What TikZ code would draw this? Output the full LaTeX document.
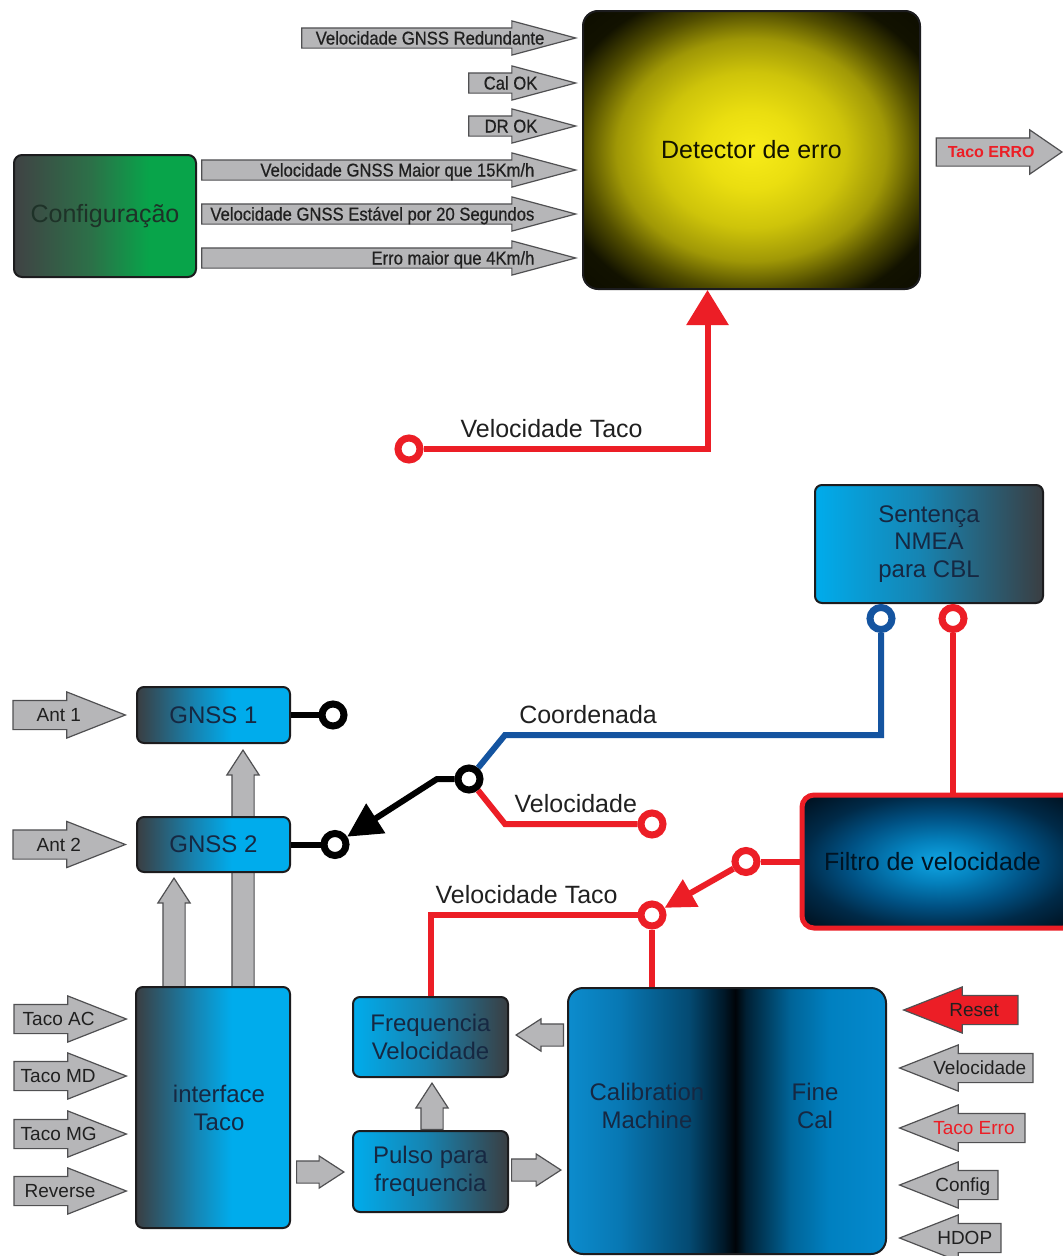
\documentclass[tikz,border=0pt]{standalone}
\usepackage{fontspec}
\setmainfont{Liberation Sans}
\newfontfamily\narrowsans[FakeStretch=0.9,FakeBold=0.6]{Liberation Sans}
\usetikzlibrary{positioning,arrows.meta,shapes.arrows}
\definecolor{arrfill}{RGB}{182,182,184}
\definecolor{arredge}{RGB}{80,80,82}
\definecolor{boxedge}{RGB}{28,28,30}
\definecolor{boxtext}{RGB}{22,40,66}
\definecolor{lbltext}{RGB}{32,32,32}
\definecolor{wirered}{RGB}{236,30,38}
\definecolor{wireblue}{RGB}{20,84,160}
\definecolor{shgray}{RGB}{58,62,66}
\definecolor{shteal}{RGB}{22,132,178}
\definecolor{shblue}{RGB}{0,172,236}
\definecolor{cfggray}{RGB}{64,66,68}
\definecolor{cfgmid}{RGB}{44,112,72}
\definecolor{cfggreen}{RGB}{8,164,74}
\definecolor{cfgtext}{RGB}{30,50,40}
\definecolor{detA}{RGB}{248,236,24}
\definecolor{detB}{RGB}{234,222,16}
\definecolor{detC}{RGB}{206,196,10}
\definecolor{detD}{RGB}{160,152,6}
\definecolor{detE}{RGB}{82,78,0}
\definecolor{detF}{RGB}{18,18,0}
\definecolor{filA}{RGB}{16,166,228}
\definecolor{filB}{RGB}{4,128,188}
\definecolor{filC}{RGB}{0,80,130}
\definecolor{filD}{RGB}{0,42,72}
\definecolor{filE}{RGB}{0,20,36}
\definecolor{calA}{RGB}{12,140,205}
\definecolor{calB}{RGB}{8,120,180}
\definecolor{calC}{RGB}{4,74,114}
\definecolor{calD}{RGB}{0,24,40}
\definecolor{calE}{RGB}{0,4,8}
\definecolor{calF}{RGB}{0,32,52}
\definecolor{calG}{RGB}{0,100,152}
\definecolor{calH}{RGB}{0,128,192}
\definecolor{calI}{RGB}{4,138,206}
\pgfdeclarehorizontalshading{gnssshade}{100bp}{color(0bp)=(shgray); color(25bp)=(shgray); color(44bp)=(shteal); color(56bp)=(shblue); color(100bp)=(shblue)}
\pgfdeclarehorizontalshading{nmeashade}{100bp}{color(0bp)=(shblue); color(25bp)=(shblue); color(48bp)=(shteal); color(75bp)=(shgray); color(100bp)=(shgray)}
\pgfdeclarehorizontalshading{cfgshade}{100bp}{color(0bp)=(cfggray); color(25bp)=(cfggray); color(46bp)=(cfgmid); color(62bp)=(cfggreen); color(100bp)=(cfggreen)}
\pgfdeclarehorizontalshading{calshade}{100bp}{color(0bp)=(calA); color(25bp)=(calA); color(33bp)=(calB); color(44bp)=(calC); color(49.5bp)=(calD); color(51.3bp)=(calE); color(53bp)=(calF); color(60bp)=(calG); color(66bp)=(calH); color(75bp)=(calI); color(100bp)=(calI)}
\pgfdeclareradialshading{detshade}{\pgfpointorigin}{color(0bp)=(detA); color(7bp)=(detB); color(14bp)=(detC); color(20bp)=(detD); color(25bp)=(detE); color(30bp)=(detF); color(50bp)=(black)}
\pgfdeclareradialshading{filtshade}{\pgfpointorigin}{color(0bp)=(filA); color(8bp)=(filB); color(17bp)=(filC); color(25bp)=(filD); color(33bp)=(filE); color(50bp)=(filE)}
\newcommand{\arrtxtl}[3]{\makebox[#1pt][l]{\kern#2pt #3}}
\newcommand{\arrtxtr}[3]{\makebox[#1pt][r]{#3\kern-#2pt}}
\tikzset{
  blk/.style     ={rectangle, rounded corners=7pt, draw=boxedge, line width=2pt,
                   text=boxtext, align=center, inner sep=0pt, font=\fontsize{24}{28}\selectfont},
  gnssblk/.style ={blk, shade, shading=gnssshade},
  nmeablk/.style ={blk, shade, shading=nmeashade},
  garrow/.style  ={single arrow, draw=arredge, fill=arrfill, line width=1.2pt, anchor=tip},
  inarrow/.style ={garrow, single arrow head extend=7pt, single arrow tip angle=30,
                   inner sep=0pt, text height=16pt, text depth=3pt, text=lbltext,
                   font=\narrowsans\fontsize{18.5}{20}\selectfont},
  sidearrow/.style={garrow, single arrow head extend=8.5pt, single arrow tip angle=43,
                   inner sep=0pt, text height=20.8pt, text depth=7.2pt, text=lbltext,
                   font=\fontsize{19}{22}\selectfont},
  backarrow/.style={sidearrow, shape border rotate=180},
  outarrow/.style={garrow, single arrow head extend=8pt, single arrow tip angle=69,
                   inner sep=0pt, text height=19.25pt, text depth=7.75pt, text=wirered,
                   font=\bfseries\fontsize{16}{19}\selectfont},
  flowarr/.style ={garrow, single arrow head extend=5pt, single arrow tip angle=66,
                   inner xsep=0pt, inner ysep=10.5pt},
  port/.style    ={circle, draw=#1, line width=7pt, fill=white, minimum size=22pt, inner sep=0pt},
  wire/.style    ={draw=#1, line width=6pt},
  wlabel/.style  ={anchor=south west, inner sep=0pt, text depth=0pt, text=lbltext,
                   font=\fontsize{25}{30}\selectfont},
}
\begin{document}
\begin{tikzpicture}[x=1pt, y=-1pt]
\useasboundingbox (0,0) rectangle (1063,1256);
\clip (0,0) rectangle (1063,1256);
\fill[white] (0,0) rectangle (1063,1256);

% error detector
\node[blk, rounded corners=15pt, shade, shading=detshade, minimum width=337pt, minimum height=278pt,
      text=detF, font=\fontsize{25}{30}\selectfont] (det) at (751.5,150) {Detector de erro};
\node[blk, rounded corners=8pt, shade, shading=cfgshade, minimum width=182pt, minimum height=122pt,
      text=cfgtext, font=\fontsize{25}{30}\selectfont] (cfg) at (105,216) {Configuração};
\node[inarrow] (redund) at (578,38)  {\arrtxtr{235}{7}{Velocidade GNSS Redundante}};
\node[inarrow] (calok)  at (578,83)  {\arrtxtr{68}{0}{Cal OK}};
\node[inarrow] (drok)   at (578,126) {\arrtxtr{68}{0}{DR OK}};
\node[inarrow] (maior)  at (578,170) {\arrtxtr{335}{-3}{Velocidade GNSS Maior que 15Km/h}};
\node[inarrow] (estav)  at (578,214) {\arrtxtr{335}{-3}{Velocidade GNSS Estável por 20 Segundos}};
\node[inarrow] (erro4)  at (578,258) {\arrtxtr{335}{-3}{Erro maior que 4Km/h}};
\node[outarrow] (tacoerro) at (1063,152) {\arrtxtl{104}{11}{Taco ERRO}};
\node[port=wirered] (vtaco) at (409,449) {};
\coordinate (detin) at ([xshift=-44pt]det.south);
\draw[wire=wirered, -{Triangle[length=35pt,width=41pt]}] (vtaco)
  -- node[wlabel, pos=0.12, yshift=9pt] {Velocidade Taco} (vtaco -| detin) -- (detin);

% receivers
\node[flowarr, rotate=90] (up2) at (174,877) {\rule{92pt}{0pt}};
\node[flowarr, rotate=90] (up1) at (243,749) {\rule{220pt}{0pt}};
\node[gnssblk, minimum width=153pt, minimum height=56pt] (gnss1) at (213.5,715) {GNSS 1};
\node[gnssblk, minimum width=153pt, minimum height=55pt] (gnss2) at (213.5,844.5) {GNSS 2};
\node[sidearrow] (ant1) at (127,715)   {\arrtxtl{74}{23}{Ant 1}};
\node[sidearrow] (ant2) at (127,844.5) {\arrtxtl{74}{23}{Ant 2}};
\node[port=black] (g1out) at (333,715) {};
\node[port=black] (g2out) at (335,844.5) {};
\node[port=black] (pivot) at (469,779) {};
\node[port=wirered] (velout) at (652,824) {};
\coordinate (swbend) at (437,779);
\coordinate (cobend) at (505,735);
\coordinate (vbend) at (505,824);

% NMEA and filter
\node[nmeablk, minimum width=228pt, minimum height=118pt, font=\fontsize{24}{27.5}\selectfont]
      (nmea) at (929,544) {Sentença\\NMEA\\para CBL};
\node[port=wireblue, below=0pt of nmea.south, xshift=-48pt] (nmeaco) {};
\node[port=wirered, below=0pt of nmea.south, xshift=24pt] (nmeavel) {};
\node[blk, rounded corners=12pt, draw=wirered, line width=5pt, shade, shading=filtshade,
      minimum width=273pt, minimum height=133pt, text=filE, font=\fontsize{25}{30}\selectfont]
      (filt) at (938.5,861.5) {Filtro de velocidade\kern12pt};
\node[port=wirered] (fout) at (746,861.5) {};
\node[port=wirered] (vtacob) at (652,915) {};

% tacho chain
\node[gnssblk, minimum width=154pt, minimum height=241pt] (iface) at (213,1107.5) {\kern12pt interface\\\kern12pt Taco};
\node[nmeablk, minimum width=155pt, minimum height=80pt] (freq) at (430.5,1037) {Frequencia\\Velocidade};
\node[nmeablk, minimum width=155pt, minimum height=81pt] (puls) at (430.5,1171.5) {Pulso para\\frequencia};
\node[blk, rounded corners=15pt, shade, shading=calshade, minimum width=318pt, minimum height=266pt]
      (cal) at (727,1121) {};
\node[text=boxtext, align=center, font=\fontsize{24}{28}\selectfont] (calm) at (647,1106) {Calibration\\Machine};
\node[text=boxtext, align=center, font=\fontsize{24}{28}\selectfont] (finec) at (815,1106) {Fine\\Cal};
\node[flowarr] (i2p) at (345,1172) {\rule{29pt}{0pt}};
\node[flowarr] (p2c) at (562,1170) {\rule{31pt}{0pt}};
\node[flowarr, rotate=180] (c2f) at (515,1035) {\rule{29pt}{0pt}};
\node[flowarr, rotate=90] (p2f) at (432,1082) {\rule{28pt}{0pt}};
\node[sidearrow] (tacoac)  at (128,1019) {\arrtxtl{74}{8}{Taco AC}};
\node[sidearrow] (tacomd)  at (128,1076) {\arrtxtl{74}{6}{Taco MD}};
\node[sidearrow] (tacomg)  at (128,1134) {\arrtxtl{74}{6}{Taco MG}};
\node[sidearrow] (reverse) at (128,1191) {\arrtxtl{74}{10}{Reverse}};
\node[backarrow, fill=wirered] (reset) at (902,1010) {\arrtxtl{76}{8}{Reset}};
\node[backarrow] (velin)   at (898,1068) {\arrtxtl{95}{-4}{Velocidade}};
\node[backarrow, text=wirered] (tacoerr) at (898,1128) {\arrtxtl{87}{-4}{Taco Erro}};
\node[backarrow] (cfgin)   at (898,1185) {\arrtxtl{60}{-2}{Config}};
\node[backarrow] (hdop)    at (898,1238) {\arrtxtl{63}{0}{HDOP}};

% wires
\draw[wire=black] (gnss1) -- (g1out);
\draw[wire=black] (gnss2) -- (g2out);
\draw[wire=black, -{Triangle[length=34pt,width=34pt]}] (pivot) -- (swbend) -- (g2out);
\draw[wire=wireblue] (pivot) -- (cobend)
  -- node[wlabel, pos=0.03, yshift=9pt] {Coordenada} (cobend -| nmeaco) -- (nmeaco);
\draw[wire=wirered] (pivot) -- (vbend) -- node[wlabel, pos=0.05, yshift=9pt] {Velocidade} (velout);
\draw[wire=wirered] (nmeavel) -- (nmeavel |- filt.north);
\draw[wire=wirered] (filt) -- (fout);
\draw[wire=wirered, -{Triangle[length=30pt,width=30pt]}] (fout) -- (vtacob);
\draw[wire=wirered] (freq.north) -- (freq.north |- vtacob)
  -- node[wlabel, pos=0.01, yshift=9pt] {Velocidade Taco} (vtacob);
\draw[wire=wirered] (vtacob) -- (vtacob |- cal.north);
\end{tikzpicture}
\end{document}
